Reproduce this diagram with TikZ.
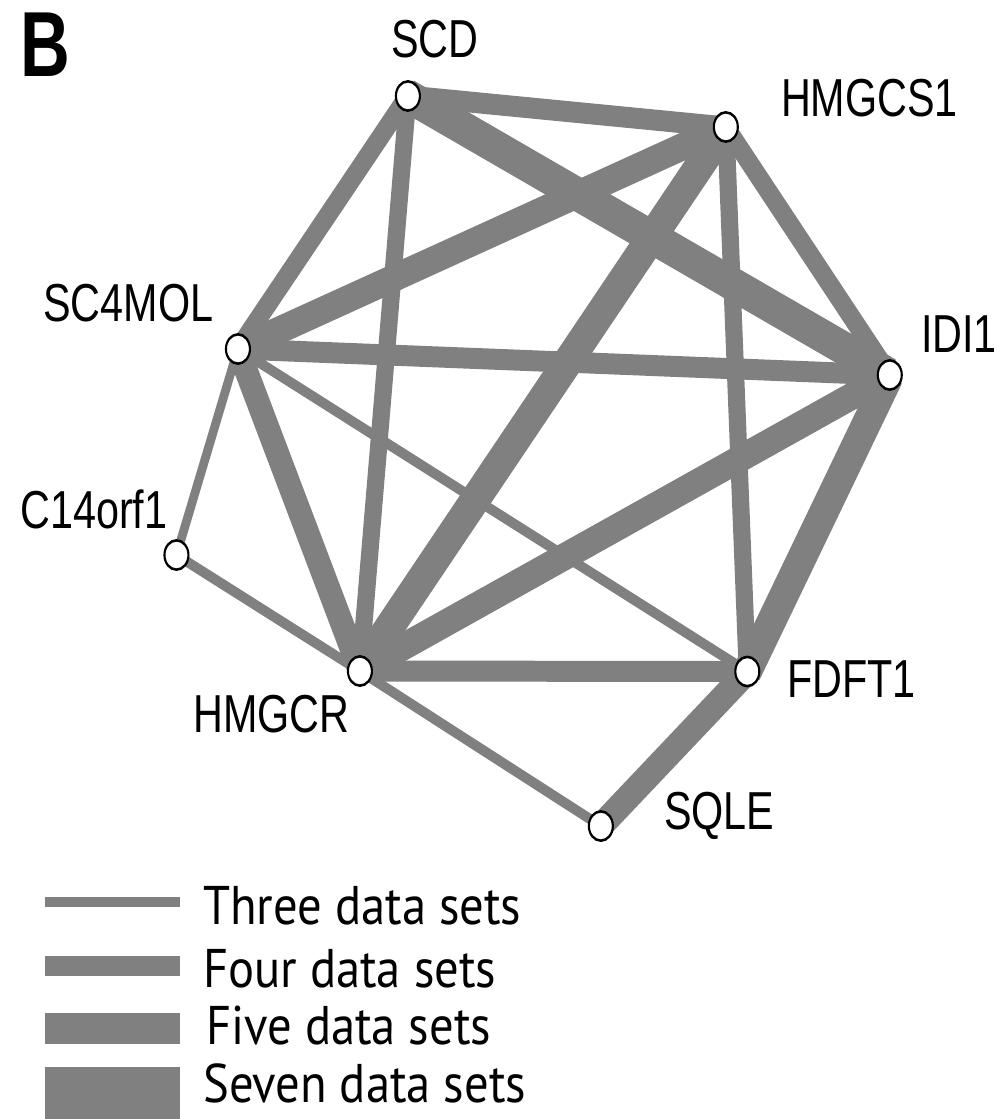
\documentclass[tikz,border=0pt]{standalone}
\usepackage{fontspec}
\setmainfont{Liberation Sans}
\newfontfamily\legendfont{PT Sans}
\pgfdeclarelayer{edges}
\pgfsetlayers{edges,main}
\definecolor{edgegray}{RGB}{128,128,128}
\tikzset{
  canvas/.style={transform canvas={yscale=1.22}, x=0.025cm, y=-0.0204918cm, shift={(0,22.93033cm)}},
  pix/.style={x=0.025cm, y=-0.025cm, shift={(0,27.975cm)}},
  gene/.style={circle, draw=black, line width=1.5pt, fill=white, minimum size=0.6cm, inner sep=0pt},
  lab/.style={anchor=base west, inner sep=0pt, font=\fontsize{29.4}{35}\selectfont},
  conn/.style={draw=edgegray, line cap=butt},
  three/.style={conn, line width=0.215cm},
  four/.style={conn, line width=0.43cm},
  five/.style={conn, line width=0.57cm},
  seven/.style={conn, line width=0.7cm},
  legtext/.style={anchor=base west, inner sep=0pt, font=\legendfont\fontsize{34.6}{40}\selectfont},
}
\newcommand{\tallish}[1]{\scalebox{1}[1.06]{#1}}
\newcommand{\legstretch}[1]{\scalebox{1}[1.12]{#1}}
\begin{document}
\begin{tikzpicture}
\useasboundingbox (0,0) rectangle (24.975,27.975);
\begin{scope}[canvas]
  \node[gene] (scd) at (408,96) {};
  \node[gene] (hmgcs1) at (726,127) {};
  \node[gene] (sc4mol) at (238,349) {};
  \node[gene] (idi1) at (890,375) {};
  \node[gene] (c14) at (176.5,555) {};
  \node[gene] (hmgcr) at (360,671) {};
  \node[gene] (fdft1) at (747.5,671.5) {};
  \node[gene] (sqle) at (601,826) {};
  \node[lab] (l-scd) at (391,58) {\tallish{SCD}};
  \node[lab] (l-hmgcs1) at (781,117) {\tallish{HMGCS1}};
  \node[lab] (l-sc4mol) at (43,322) {\tallish{SC4MOL}};
  \node[lab] (l-idi1) at (921,353) {\tallish{IDI1}};
  \node[lab] (l-c14) at (20,528) {\tallish{C14orf1}};
  \node[lab] (l-hmgcr) at (193,732) {\tallish{HMGCR}};
  \node[lab] (l-fdft1) at (787,697) {\tallish{FDFT1}};
  \node[lab] (l-sqle) at (664,829) {\tallish{SQLE}};
  \node[anchor=base west, inner sep=0pt, font=\bfseries\fontsize{49}{55}\selectfont] (panel) at (20,77) {\scalebox{1}[1.1]{B}};
\end{scope}
\begin{pgfonlayer}{edges}
\begin{scope}[canvas]
  \draw[four] (scd.center) -- (hmgcs1.center);
  \draw[four] (scd.center) -- (sc4mol.center);
  \draw[four] (scd.center) -- (hmgcr.center);
  \draw[seven] (scd.center) -- (idi1.center);
  \draw[five] (hmgcs1.center) -- (sc4mol.center);
  \draw[seven] (hmgcs1.center) -- (hmgcr.center);
  \draw[four] (hmgcs1.center) -- (idi1.center);
  \draw[four] (hmgcs1.center) -- (fdft1.center);
  \draw[four] (sc4mol.center) -- (idi1.center);
  \draw[three] (sc4mol.center) -- (c14.center);
  \draw[five] (sc4mol.center) -- (hmgcr.center);
  \draw[three] (sc4mol.center) -- (fdft1.center);
  \draw[five] (idi1.center) -- (hmgcr.center);
  \draw[seven] (idi1.center) -- (fdft1.center);
  \draw[three] (c14.center) -- (hmgcr.center);
  \draw[four] (hmgcr.center) -- (fdft1.center);
  \draw[three] (hmgcr.center) -- (sqle.center);
  \draw[five] (fdft1.center) -- (sqle.center);
\end{scope}
\end{pgfonlayer}
\begin{scope}[pix]
  \fill[edgegray] (45,897) rectangle (180,907);
  \fill[edgegray] (45,956) rectangle (180,976);
  \fill[edgegray] (45,1013) rectangle (180,1044);
  \fill[edgegray] (45,1067) rectangle (180,1119);
  \node[legtext] (t3) at (203,925) {\legstretch{Three data sets}};
  \node[legtext] (t4) at (203,988) {\legstretch{Four data sets}};
  \node[legtext] (t5) at (206,1045) {\legstretch{Five data sets}};
  \node[legtext] (t7) at (203,1103) {\legstretch{Seven data sets}};
\end{scope}
\end{tikzpicture}
\end{document}
